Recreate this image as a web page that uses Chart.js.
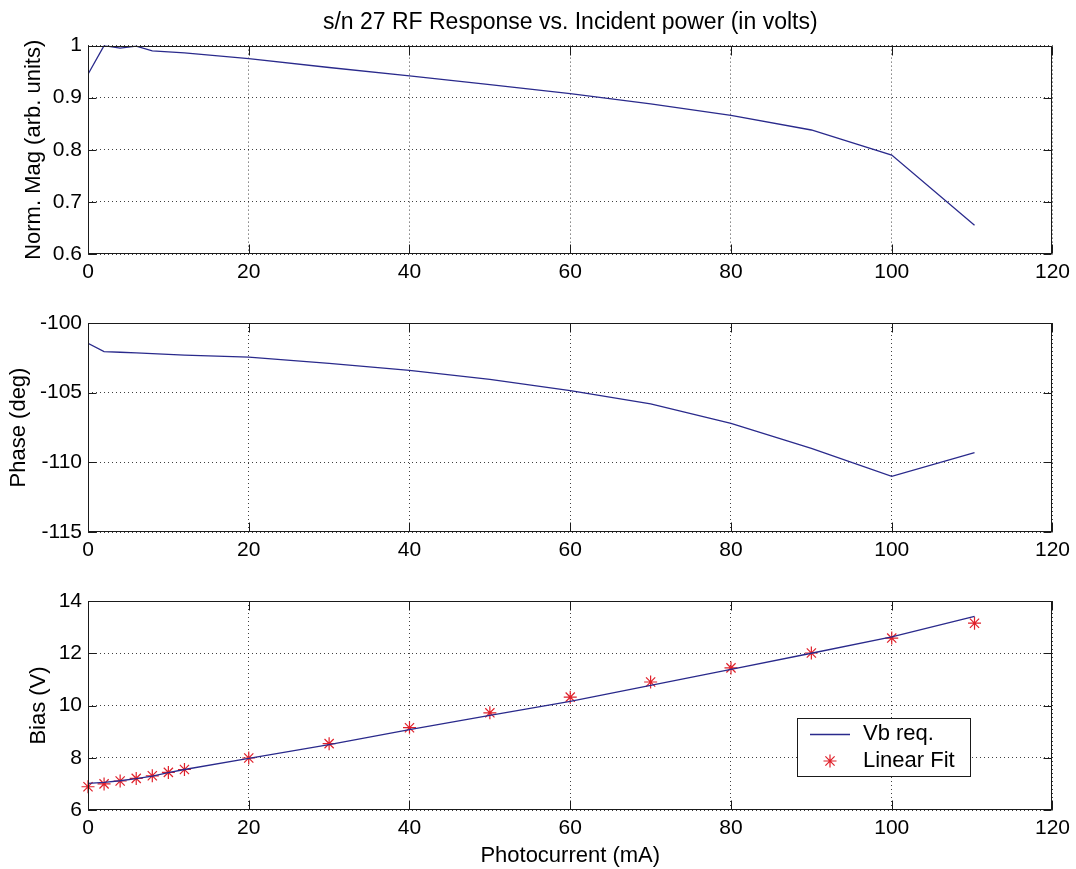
<!DOCTYPE html>
<html>
<head>
<meta charset="utf-8">
<script src="https://cdn.jsdelivr.net/npm/chart.js@4.4.1/dist/chart.umd.min.js"></script>
<style>
    body { margin: 0; background: #fff; }
    #wrap { position: relative; width: 1076px; height: 869px; }
    .box { position: absolute; left: 0; width: 1076px; }
</style>
</head>
<body>
<div id="wrap">
    <div class="box" style="top:0;height:290px"><canvas id="magChart"></canvas></div>
    <div class="box" style="top:290px;height:280px"><canvas id="phaseChart"></canvas></div>
    <div class="box" style="top:570px;height:299px"><canvas id="biasChart"></canvas></div>
</div>
<script>
// values
const photocurrent = [0, 2, 4, 6, 8, 10, 12, 20, 30, 40, 50, 60, 70, 80, 90, 100, 110.3];
const normMag = [0.945, 1.0, 0.995, 0.999, 0.99, 0.988, 0.986, 0.975, 0.958, 0.942, 0.925, 0.908, 0.888, 0.866, 0.838, 0.79, 0.655];
const phaseDeg = [-101.45, -102.05, -102.1, -102.15, -102.2, -102.25, -102.3, -102.45, -102.9, -103.4, -104.05, -104.85, -105.8, -107.2, -109.0, -111.0, -109.3];
const biasReq = [7.02, 7.06, 7.12, 7.2, 7.3, 7.43, 7.55, 7.98, 8.5, 9.08, 9.62, 10.16, 10.77, 11.38, 12.0, 12.63, 13.41];
const biasFit = [6.89, 7.0, 7.11, 7.21, 7.31, 7.44, 7.55, 7.99, 8.54, 9.15, 9.72, 10.32, 10.9, 11.44, 12.01, 12.58, 13.15];

const xRange = [0, 120, 20];
const magRange = [0.6, 1, 0.1];
const phaseRange = [-115, -100, 5];
const biasRange = [6, 14, 2];

const titleText = "s/n 27 RF Response vs. Incident power (in volts)";
const xLabel = "Photocurrent (mA)";
const seriesNames = ["Vb req.", "Linear Fit"];

const lineColor = "#2a2a8c";
const markColor = "#e0202a";
const fontFamily = '"Liberation Sans", Arial, Helvetica, sans-serif';

Chart.defaults.font.family = fontFamily;
Chart.defaults.color = "#000";
Chart.defaults.animation = false;

const toPoints = ys => photocurrent.map((x, i) => ({ x: x, y: ys[i] }));
// matlab prints 1 not 1.0
const plainNum = v => String(Number(v.toFixed(3)));

// matlab style box with inward tick marks
const frameTicks = {
    id: "frameTicks",
    afterDatasetsDraw(chart) {
        const { ctx, chartArea } = chart;
        const l = Math.round(chartArea.left) + 0.5;
        const r = Math.round(chartArea.right) - 0.5;
        const t = Math.round(chartArea.top) + 0.5;
        const b = Math.round(chartArea.bottom) - 0.5;
        ctx.save();
        ctx.strokeStyle = "#1a1a1a";
        ctx.lineWidth = 1;
        ctx.strokeRect(l, t, r - l, b - t);
        ctx.beginPath();
        chart.scales.x.ticks.forEach(tick => {
            const px = Math.round(chart.scales.x.getPixelForValue(tick.value)) + 0.5;
            ctx.moveTo(px, b); ctx.lineTo(px, b - 9);
            ctx.moveTo(px, t); ctx.lineTo(px, t + 9);
        });
        chart.scales.y.ticks.forEach(tick => {
            const py = Math.round(chart.scales.y.getPixelForValue(tick.value)) + 0.5;
            ctx.moveTo(l, py); ctx.lineTo(l + 8, py);
            ctx.moveTo(r, py); ctx.lineTo(r - 8, py);
        });
        ctx.stroke();
        ctx.restore();
    }
};

function drawStar(ctx, x, y, rad) {
    ctx.beginPath();
    for (let k = 0; k < 4; k++) {
        const a = k * Math.PI / 4;
        ctx.moveTo(x - Math.cos(a) * rad, y - Math.sin(a) * rad);
        ctx.lineTo(x + Math.cos(a) * rad, y + Math.sin(a) * rad);
    }
    ctx.stroke();
}

const insideLegend = {
    id: "insideLegend",
    afterDraw(chart) {
        const { ctx, chartArea } = chart;
        const ds = chart.data.datasets;
        const left = Math.round(chartArea.right) - 255;
        const top = Math.round(chartArea.top) + 117;
        const w = 173, h = 58;
        ctx.save();
        ctx.fillStyle = "#fff";
        ctx.fillRect(left, top, w, h);
        ctx.strokeStyle = "#1a1a1a";
        ctx.lineWidth = 1;
        ctx.strokeRect(left + 0.5, top + 0.5, w, h);

        ctx.strokeStyle = ds[0].borderColor;
        ctx.lineWidth = ds[0].borderWidth;
        ctx.beginPath();
        ctx.moveTo(left + 13, top + 16.5);
        ctx.lineTo(left + 53, top + 16.5);
        ctx.stroke();

        ctx.strokeStyle = ds[1].borderColor;
        ctx.lineWidth = ds[1].borderWidth;
        drawStar(ctx, left + 33, top + 43, ds[1].pointRadius);

        ctx.fillStyle = "#000";
        ctx.font = "22px " + fontFamily;
        ctx.textBaseline = "middle";
        ctx.fillText(ds[0].label, left + 66, top + 16);
        ctx.fillText(ds[1].label, left + 66, top + 43);
        ctx.restore();
    }
};

function makeOptions(yRange, yTitle, yTitlePad, xHeight, padTop, withXTitle, withTitle) {
    return {
        responsive: true,
        maintainAspectRatio: false,
        layout: { padding: { left: 0, right: 22, top: padTop, bottom: 0 } },
        plugins: {
            legend: { display: false },
            tooltip: { enabled: false },
            title: {
                display: withTitle,
                text: titleText,
                fullSize: false,
                font: { size: 23, weight: "normal" },
                color: "#000",
                padding: { top: 9, bottom: 9 }
            }
        },
        scales: {
            x: {
                type: "linear",
                min: xRange[0],
                max: xRange[1],
                afterFit(scale) { scale.height = xHeight; },
                ticks: { stepSize: xRange[2], padding: 6, font: { size: 21 }, color: "#000", callback: plainNum },
                grid: { drawTicks: false, color: "rgba(0,0,0,0.75)", lineWidth: 1 },
                border: { display: false, dash: [1, 3] },
                title: {
                    display: withXTitle,
                    text: xLabel,
                    font: { size: 22 },
                    color: "#000",
                    padding: { top: 0, bottom: 0 }
                }
            },
            y: {
                type: "linear",
                min: yRange[0],
                max: yRange[1],
                afterFit(scale) { scale.width = 88; },
                ticks: { stepSize: yRange[2], padding: 6, font: { size: 21 }, color: "#000", callback: plainNum },
                grid: { drawTicks: false, color: "rgba(0,0,0,0.75)", lineWidth: 1 },
                border: { display: false, dash: [1, 3] },
                title: {
                    display: true,
                    text: yTitle,
                    font: { size: 22 },
                    color: "#000",
                    padding: { top: yTitlePad, bottom: 0 }
                }
            }
        }
    };
}

new Chart("magChart", {
    type: "line",
    data: {
        datasets: [{
            label: "Norm. Mag",
            data: toPoints(normMag),
            borderColor: lineColor,
            borderWidth: 1.3,
            pointRadius: 0,
            tension: 0
        }]
    },
    options: makeOptions(magRange, "Norm. Mag (arb. units)", 21, 36, 0, false, true),
    plugins: [frameTicks]
});

new Chart("phaseChart", {
    type: "line",
    data: {
        datasets: [{
            label: "Phase",
            data: toPoints(phaseDeg),
            borderColor: lineColor,
            borderWidth: 1.3,
            pointRadius: 0,
            tension: 0
        }]
    },
    options: makeOptions(phaseRange, "Phase (deg)", 6, 38, 33, false, false),
    plugins: [frameTicks]
});

new Chart("biasChart", {
    type: "line",
    data: {
        datasets: [{
            label: seriesNames[0],
            data: toPoints(biasReq),
            borderColor: lineColor,
            borderWidth: 1.3,
            pointRadius: 0,
            tension: 0
        }, {
            label: seriesNames[1],
            data: toPoints(biasFit),
            showLine: false,
            clip: false,
            borderColor: markColor,
            backgroundColor: markColor,
            borderWidth: 1.2,
            pointStyle: "star",
            pointRadius: 6.5
        }]
    },
    options: makeOptions(biasRange, "Bias (V)", 26, 59, 31, true, false),
    plugins: [frameTicks, insideLegend]
});
</script>
</body>
</html>
